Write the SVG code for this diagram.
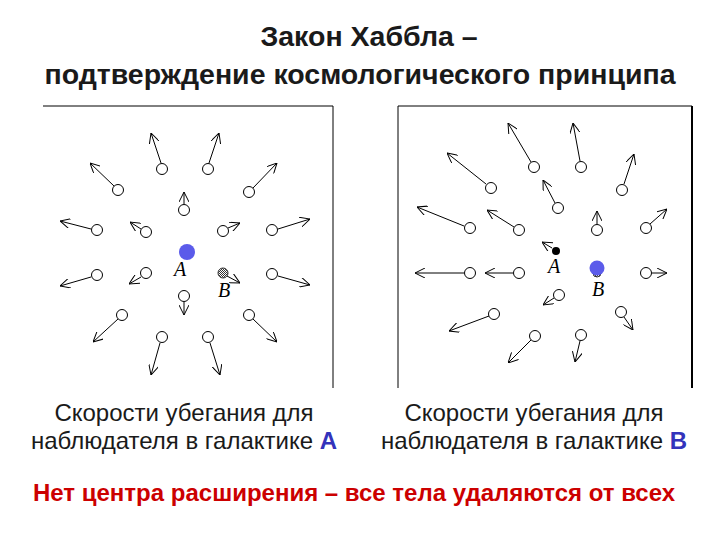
<svg xmlns="http://www.w3.org/2000/svg" width="720" height="540" viewBox="0 0 720 540">
<style>
.t{font-family:"Liberation Sans",Arial,sans-serif;font-weight:bold;font-size:28.5px;fill:#1a1a1a;text-anchor:middle}
.c{font-family:"Liberation Sans",Arial,sans-serif;font-size:24px;fill:#1a1a1a;text-anchor:middle}
.r{font-family:"Liberation Sans",Arial,sans-serif;font-weight:bold;font-size:24px;fill:#cc0000;text-anchor:middle}
.g{fill:#fff;stroke:#000;stroke-width:1}
.v line{stroke:#000;stroke-width:1;marker-end:url(#ah)}
.lb{font-family:"Liberation Serif","Times New Roman",serif;font-style:italic;font-size:20px;fill:#000;text-anchor:middle}
</style>
<defs>
<marker id="ah" viewBox="0 0 10 10" refX="10" refY="5" markerWidth="10" markerHeight="10" markerUnits="userSpaceOnUse" orient="auto">
<path d="M0,0 L10,5 L0,10" fill="none" stroke="#000" stroke-width="1"/>
</marker>
<pattern id="hatch" width="2" height="2" patternUnits="userSpaceOnUse"><rect width="2" height="2" fill="#fff"/><rect width="1" height="1" fill="#333"/><rect x="1" y="1" width="1" height="1" fill="#333"/></pattern>
</defs>
<rect width="720" height="540" fill="#fff"/>
<g id="title">
<text class="t" x="369" y="46">Закон Хаббла –</text>
<text class="t" x="360" y="84">подтверждение космологического принципа</text>
</g>
<g id="panelA">
<rect x="43" y="106" width="290" height="282" fill="#fff"/>
<line x1="43" y1="106" x2="333" y2="106" stroke="#000"/>
<line x1="333" y1="106" x2="333" y2="388" stroke="#000"/>
</g>
<g id="panelB">
<rect x="398" y="106" width="294" height="282" fill="#fff"/>
<line x1="398" y1="106" x2="692" y2="106" stroke="#000"/>
<line x1="398" y1="106" x2="398" y2="388" stroke="#000"/>
<line x1="692" y1="106" x2="692" y2="388" stroke="#000" stroke-width="2"/>
</g>
<g id="connectors" class="v">
<line x1="161" y1="163" x2="151" y2="133"/>
<line x1="209" y1="163" x2="219" y2="133"/>
<line x1="114" y1="186" x2="90" y2="163"/>
<line x1="253" y1="188" x2="277" y2="163"/>
<line x1="184" y1="204" x2="184" y2="192"/>
<line x1="91" y1="229" x2="60" y2="221"/>
<line x1="141" y1="229" x2="130" y2="222"/>
<line x1="228" y1="228" x2="240" y2="223"/>
<line x1="278" y1="229" x2="310" y2="219"/>
<line x1="91" y1="277" x2="60" y2="286"/>
<line x1="141" y1="277" x2="129" y2="284"/>
<line x1="227" y1="276" x2="240" y2="283"/>
<line x1="278" y1="276" x2="310" y2="285"/>
<line x1="184" y1="302" x2="184" y2="315"/>
<line x1="118" y1="319" x2="93" y2="342"/>
<line x1="253" y1="319" x2="277" y2="342"/>
<line x1="160" y1="343" x2="151" y2="375"/>
<line x1="210" y1="343" x2="220" y2="375"/>
<line x1="531" y1="162" x2="508" y2="123"/>
<line x1="580" y1="161" x2="573" y2="123"/>
<line x1="486" y1="184" x2="447" y2="153"/>
<line x1="624" y1="184" x2="634" y2="154"/>
<line x1="555" y1="203" x2="543" y2="180"/>
<line x1="464" y1="226" x2="417" y2="207"/>
<line x1="514" y1="227" x2="487" y2="210"/>
<line x1="597" y1="224" x2="597" y2="211"/>
<line x1="650" y1="224" x2="667" y2="209"/>
<line x1="552" y1="248" x2="542" y2="242"/>
<line x1="464" y1="273" x2="415" y2="273"/>
<line x1="513" y1="273" x2="485" y2="273"/>
<line x1="652" y1="273" x2="667" y2="273"/>
<line x1="554" y1="298" x2="543" y2="305"/>
<line x1="489" y1="316" x2="449" y2="331"/>
<line x1="624" y1="317" x2="633" y2="330"/>
<line x1="531" y1="340" x2="508" y2="363"/>
<line x1="580" y1="341" x2="575" y2="362"/>
</g>
<g id="galaxiesA">
<circle class="g" cx="162" cy="169" r="5.5"/><circle class="g" cx="208" cy="169" r="5.5"/>
<circle class="g" cx="118" cy="190" r="5.5"/><circle class="g" cx="249" cy="192" r="5.5"/>
<circle class="g" cx="184" cy="210" r="5.5"/><circle class="g" cx="97" cy="230" r="5.5"/>
<circle class="g" cx="146" cy="232" r="5.5"/><circle class="g" cx="223" cy="231" r="5.5"/>
<circle class="g" cx="272" cy="230" r="5.5"/><circle class="g" cx="97" cy="275" r="5.5"/>
<circle class="g" cx="146" cy="273" r="5.5"/><circle class="g" cx="272" cy="274" r="5.5"/>
<circle class="g" cx="184" cy="296" r="5.5"/><circle class="g" cx="122" cy="315" r="5.5"/>
<circle class="g" cx="249" cy="315" r="5.5"/><circle class="g" cx="162" cy="337" r="5.5"/>
<circle class="g" cx="208" cy="337" r="5.5"/>
<circle cx="187" cy="252" r="8" fill="#5b5bea"/>
<circle cx="223" cy="273" r="5" fill="url(#hatch)" stroke="#333"/>
<text class="lb" x="180" y="276">A</text>
<text class="lb" x="224" y="297">B</text>
</g>
<g id="galaxiesB">
<circle class="g" cx="534" cy="167" r="5.5"/><circle class="g" cx="581" cy="167" r="5.5"/>
<circle class="g" cx="491" cy="188" r="5.5"/><circle class="g" cx="622" cy="190" r="5.5"/>
<circle class="g" cx="558" cy="208" r="5.5"/><circle class="g" cx="470" cy="228" r="5.5"/>
<circle class="g" cx="519" cy="230" r="5.5"/><circle class="g" cx="597" cy="230" r="5.5"/>
<circle class="g" cx="646" cy="228" r="5.5"/><circle class="g" cx="470" cy="273" r="5.5"/>
<circle class="g" cx="519" cy="273" r="5.5"/><circle class="g" cx="646" cy="273" r="5.5"/>
<circle class="g" cx="559" cy="295" r="5.5"/><circle class="g" cx="494" cy="314" r="5.5"/>
<circle class="g" cx="621" cy="312" r="5.5"/><circle class="g" cx="535" cy="336" r="5.5"/>
<circle class="g" cx="581" cy="335" r="5.5"/>
<circle cx="556" cy="251" r="4" fill="#000"/>
<circle cx="597" cy="273" r="4" fill="url(#hatch)" stroke="#333"/>
<circle cx="597" cy="268" r="7.5" fill="#5b5bea"/>
<text class="lb" x="554" y="273">A</text>
<text class="lb" x="598" y="296">B</text>
</g>
<g id="captions">
<text class="c" x="184" y="421">Скорости убегания для</text>
<text class="c" x="184" y="449">наблюдателя в галактике <tspan fill="#3333bb" font-weight="bold">A</tspan></text>
<text class="c" x="534" y="421">Скорости убегания для</text>
<text class="c" x="534" y="449">наблюдателя в галактике <tspan fill="#3333bb" font-weight="bold">B</tspan></text>
<text class="r" x="354" y="501">Нет центра расширения – все тела удаляются от всех</text>
</g>
</svg>
